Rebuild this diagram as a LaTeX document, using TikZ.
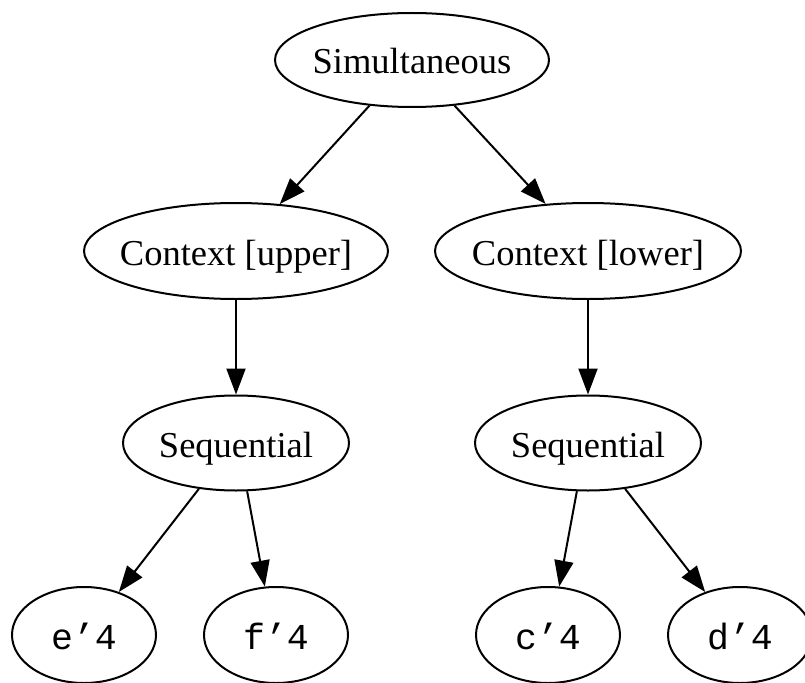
\documentclass[tikz,border=0pt]{standalone}
\usepackage{fontspec}
\setmainfont{Liberation Serif}
\newfontfamily\leafmono{Liberation Mono}
\usetikzlibrary{shapes.geometric,arrows.meta}

\begin{document}
\begin{tikzpicture}[x=1pt,y=-1pt,
  treenode/.style={ellipse,draw,line width=2pt,inner xsep=-30pt,inner ysep=0pt,
    font=\fontsize{36.5}{40}\selectfont,text height=28pt,text depth=0pt},
  leafnode/.style={treenode,font=\fontsize{36.5}{40}\selectfont\leafmono,
    minimum width=144pt,minimum height=96pt},
  edge/.style={line width=2pt,-{Triangle[length=26pt,width=19pt]}}]
  \useasboundingbox (0,0) rectangle (805,682);

  % nodes
  \node[treenode,minimum width=274pt,minimum height=94pt] (sim) at (412,60) {Simultaneous};
  \node[treenode,minimum width=304pt,minimum height=96pt] (cu) at (236,251) {Context [upper]};
  \node[treenode,minimum width=306pt,minimum height=96pt] (cl) at (588,251) {Context [lower]};
  \node[treenode,minimum width=226pt,minimum height=95pt] (su) at (236,443) {Sequential};
  \node[treenode,minimum width=226pt,minimum height=95pt] (sl) at (588,443) {Sequential};
  \node[leafnode] (e) at (84,635) {e’4};
  \node[leafnode] (f) at (276,635) {f’4};
  \node[leafnode] (c) at (548,635) {c’4};
  \node[leafnode] (d) at (740,635) {d’4};

  % edges
  \draw[edge] (sim.227) -- (cu.47.5);
  \draw[edge] (sim.313) -- (cl.132.5);
  \draw[edge] (cu.south) -- (su.north);
  \draw[edge] (cl.south) -- (sl.north);
  \draw[edge] (su.231) -- (e.51);
  \draw[edge] (su.283) -- (f.103);
  \draw[edge] (sl.257) -- (c.77);
  \draw[edge] (sl.309) -- (d.129);
\end{tikzpicture}
\end{document}
